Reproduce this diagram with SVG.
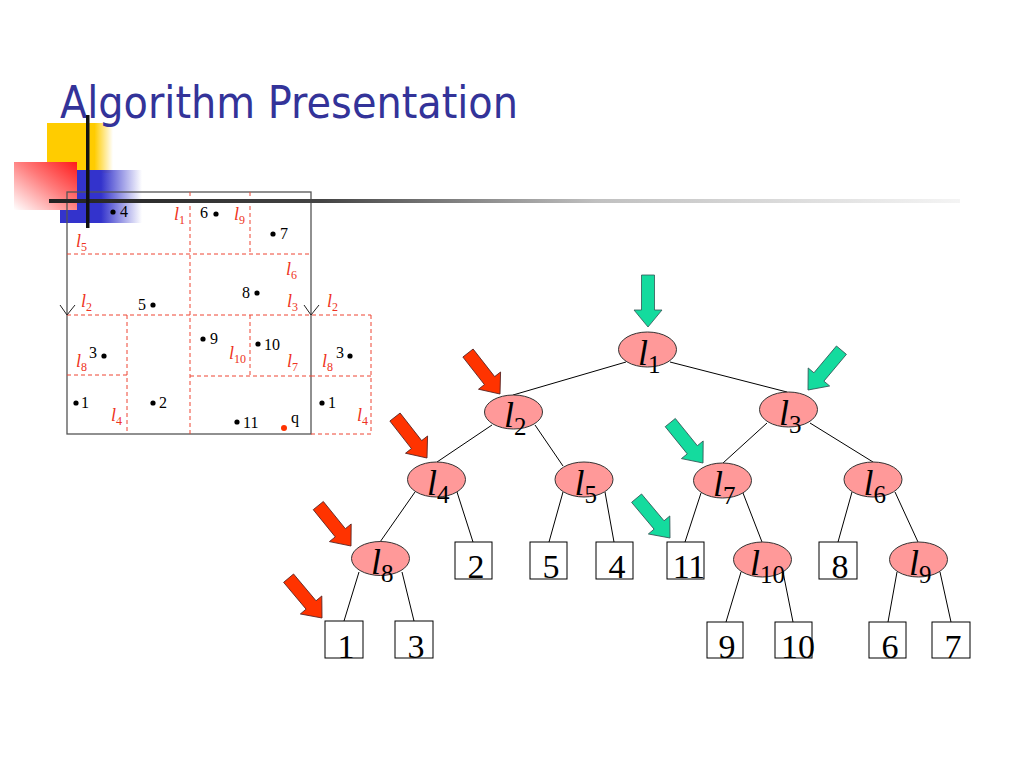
<svg xmlns="http://www.w3.org/2000/svg" xmlns:xlink="http://www.w3.org/1999/xlink" width="1024" height="768" viewBox="0 0 1024 768">
<defs>
  <linearGradient id="gYel" x1="0" y1="0" x2="1" y2="0">
    <stop offset="0" stop-color="#FFCC00"/>
    <stop offset="0.72" stop-color="#FFCC00"/>
    <stop offset="1" stop-color="#FFCC00" stop-opacity="0"/>
  </linearGradient>
  <linearGradient id="gBlue" x1="0" y1="0" x2="1" y2="0">
    <stop offset="0" stop-color="#3333CC"/>
    <stop offset="0.5" stop-color="#3333CC"/>
    <stop offset="1" stop-color="#3333CC" stop-opacity="0"/>
  </linearGradient>
  <linearGradient id="gRed" x1="1" y1="0" x2="0" y2="1">
    <stop offset="0" stop-color="#FF1A1A"/>
    <stop offset="0.45" stop-color="#FF7A7A"/>
    <stop offset="1" stop-color="#FFFFFF"/>
  </linearGradient>
  <linearGradient id="gLine" gradientUnits="userSpaceOnUse" x1="49" y1="0" x2="960" y2="0">
    <stop offset="0" stop-color="#222222"/>
    <stop offset="0.3" stop-color="#444444"/>
    <stop offset="0.6" stop-color="#C0C0C0"/>
    <stop offset="1" stop-color="#F4F4F4"/>
  </linearGradient>
  <path id="arr" d="M -6.5 -52 L 6.5 -52 L 6.5 -17 L 14 -17 L 0 0 L -14 -17 L -6.5 -17 Z"/>
  <style>
    .title { font-family: "DejaVu Sans", Verdana, sans-serif; font-size: 45px; fill: #333399; }
    .frame { fill: none; stroke: #555555; stroke-width: 1.3; }
    .dash { fill: none; stroke: #EE4433; stroke-width: 1; stroke-dasharray: 4 3; }
    .chev { fill: none; stroke: #222222; stroke-width: 1; }
    .lab { font-family: "Liberation Serif", "Times New Roman", serif; font-style: italic; font-size: 18px; fill: #EE3322; }
    .lab .s { font-style: normal; font-size: 12px; }
    .pt { font-family: "Liberation Serif", "Times New Roman", serif; font-size: 16px; fill: #000000; }
    .dot { fill: #000000; }
    .edge { stroke: #000000; stroke-width: 1; fill: none; }
    .inner ellipse { fill: #FF9999; stroke: #333333; stroke-width: 1; }
    .inner text { font-family: "Liberation Serif", "Times New Roman", serif; font-style: italic; font-size: 36px; fill: #000000; }
    .inner text tspan { font-style: normal; font-size: 25px; }
    .leaf rect { fill: #FFFFFF; stroke: #000000; stroke-width: 1; }
    .leaf text { font-family: "Liberation Serif", "Times New Roman", serif; font-size: 34px; fill: #000000; text-anchor: middle; }
    .ag { fill: #14DB9E; stroke: #335555; stroke-width: 0.8; }
    .ar { fill: #FF3300; stroke: #552222; stroke-width: 0.8; }
  </style>
</defs>
<rect x="0" y="0" width="1024" height="768" fill="#FFFFFF"/>

<g id="template">
  <rect x="47" y="123" width="66" height="50" fill="url(#gYel)"/>
  <rect x="60" y="170" width="82" height="53" fill="url(#gBlue)"/>
  <rect x="14" y="162" width="63" height="48" fill="url(#gRed)"/>
</g>

<g id="title">
  <text class="title" x="60" y="118" textLength="458" lengthAdjust="spacingAndGlyphs">Algorithm Presentation</text>
</g>

<g id="partition">
  <rect class="frame" x="67" y="192" width="244" height="242"/>
  <line class="dash" x1="190" y1="192" x2="190" y2="434"/>
  <line class="dash" x1="250" y1="192" x2="250" y2="254"/>
  <line class="dash" x1="67" y1="254" x2="311" y2="254"/>
  <line class="dash" x1="67" y1="315" x2="371" y2="315"/>
  <line class="dash" x1="127" y1="315" x2="127" y2="434"/>
  <line class="dash" x1="67" y1="375" x2="127" y2="375"/>
  <line class="dash" x1="190" y1="376" x2="311" y2="376"/>
  <line class="dash" x1="250" y1="315" x2="250" y2="376"/>
  <line class="dash" x1="371" y1="315" x2="371" y2="434"/>
  <line class="dash" x1="311" y1="434" x2="371" y2="434"/>
  <line class="dash" x1="311" y1="376" x2="371" y2="376"/>
  <polyline class="chev" points="60,305 67,315 75,305"/>
  <polyline class="chev" points="304,305 311,315 319,305"/>

  <text class="lab" x="76" y="247">l<tspan class="s" dy="4">5</tspan></text>
  <text class="lab" x="174" y="220">l<tspan class="s" dy="4">1</tspan></text>
  <text class="lab" x="234" y="220">l<tspan class="s" dy="4">9</tspan></text>
  <text class="lab" x="286" y="275">l<tspan class="s" dy="4">6</tspan></text>
  <text class="lab" x="287" y="307">l<tspan class="s" dy="4">3</tspan></text>
  <text class="lab" x="81" y="307">l<tspan class="s" dy="4">2</tspan></text>
  <text class="lab" x="327" y="307">l<tspan class="s" dy="4">2</tspan></text>
  <text class="lab" x="76" y="367">l<tspan class="s" dy="4">8</tspan></text>
  <text class="lab" x="229" y="359">l<tspan class="s" dy="4">10</tspan></text>
  <text class="lab" x="287" y="367">l<tspan class="s" dy="4">7</tspan></text>
  <text class="lab" x="322" y="367">l<tspan class="s" dy="4">8</tspan></text>
  <text class="lab" x="111" y="421">l<tspan class="s" dy="4">4</tspan></text>
  <text class="lab" x="357" y="421">l<tspan class="s" dy="4">4</tspan></text>

  <circle class="dot" cx="113" cy="212" r="2.6"/><text class="pt" x="120" y="217">4</text>
  <circle class="dot" cx="216" cy="214" r="2.6"/><text class="pt" x="200" y="218">6</text>
  <circle class="dot" cx="273" cy="234" r="2.6"/><text class="pt" x="280" y="239">7</text>
  <circle class="dot" cx="257" cy="293" r="2.6"/><text class="pt" x="242" y="298">8</text>
  <circle class="dot" cx="153" cy="305" r="2.6"/><text class="pt" x="138" y="310">5</text>
  <circle class="dot" cx="203" cy="339" r="2.6"/><text class="pt" x="210" y="344">9</text>
  <circle class="dot" cx="258" cy="344" r="2.6"/><text class="pt" x="264" y="350">10</text>
  <circle class="dot" cx="104" cy="356" r="2.6"/><text class="pt" x="89" y="358">3</text>
  <circle class="dot" cx="350" cy="356" r="2.6"/><text class="pt" x="336" y="358">3</text>
  <circle class="dot" cx="76" cy="403" r="2.6"/><text class="pt" x="81" y="408">1</text>
  <circle class="dot" cx="153" cy="403" r="2.6"/><text class="pt" x="159" y="408">2</text>
  <circle class="dot" cx="322" cy="403" r="2.6"/><text class="pt" x="328" y="408">1</text>
  <circle class="dot" cx="237" cy="422" r="2.6"/><text class="pt" x="243" y="428">11</text>
  <circle cx="284" cy="428" r="3" fill="#FF3300"/><text class="pt" x="291" y="423" fill="#FF3300">q</text>
</g>

<g id="template-lines">
  <rect x="49" y="199" width="911" height="4" fill="url(#gLine)"/>
  <rect x="86" y="115" width="3.5" height="113" fill="#111111"/>
</g>

<g id="connectors">
  <line class="edge" x1="626" y1="362" x2="513" y2="395"/>
  <line class="edge" x1="670" y1="362" x2="787" y2="392"/>
  <line class="edge" x1="492" y1="425" x2="437" y2="462"/>
  <line class="edge" x1="535" y1="425" x2="563" y2="466"/>
  <line class="edge" x1="767" y1="423" x2="723" y2="463"/>
  <line class="edge" x1="810" y1="423" x2="873" y2="462"/>
  <line class="edge" x1="415" y1="492" x2="380" y2="542"/>
  <line class="edge" x1="457" y1="492" x2="473" y2="542"/>
  <line class="edge" x1="563" y1="492" x2="549" y2="542"/>
  <line class="edge" x1="605" y1="492" x2="614" y2="542"/>
  <line class="edge" x1="701" y1="493" x2="685" y2="542"/>
  <line class="edge" x1="743" y1="493" x2="762" y2="542"/>
  <line class="edge" x1="852" y1="492" x2="838" y2="542"/>
  <line class="edge" x1="895" y1="492" x2="918" y2="542"/>
  <line class="edge" x1="359" y1="572" x2="344" y2="621"/>
  <line class="edge" x1="402" y1="572" x2="414" y2="621"/>
  <line class="edge" x1="741" y1="572" x2="726" y2="622"/>
  <line class="edge" x1="783" y1="572" x2="793" y2="622"/>
  <line class="edge" x1="897" y1="572" x2="888" y2="622"/>
  <line class="edge" x1="940" y1="572" x2="951" y2="622"/>
</g>

<g id="n-l1" class="inner"><ellipse cx="647.5" cy="349.5" rx="29" ry="17.5"/><text x="638" y="365">l<tspan dy="8">1</tspan></text></g>
<g id="n-l2" class="inner"><ellipse cx="513.5" cy="412" rx="29" ry="17"/><text x="504" y="427">l<tspan dy="8">2</tspan></text></g>
<g id="n-l3" class="inner"><ellipse cx="788.5" cy="409.5" rx="29" ry="17.5"/><text x="779" y="425">l<tspan dy="8">3</tspan></text></g>
<g id="n-l4" class="inner"><ellipse cx="436.5" cy="479.5" rx="29" ry="17.5"/><text x="427" y="495">l<tspan dy="8">4</tspan></text></g>
<g id="n-l5" class="inner"><ellipse cx="584" cy="479.5" rx="29" ry="17.5"/><text x="574.5" y="495">l<tspan dy="8">5</tspan></text></g>
<g id="n-l7" class="inner"><ellipse cx="722.5" cy="480.5" rx="29" ry="17.5"/><text x="713" y="496">l<tspan dy="8">7</tspan></text></g>
<g id="n-l6" class="inner"><ellipse cx="873" cy="479.5" rx="29" ry="17.5"/><text x="863.5" y="495">l<tspan dy="8">6</tspan></text></g>
<g id="n-l8" class="inner"><ellipse cx="380.5" cy="558.5" rx="29" ry="17"/><text x="371" y="574">l<tspan dy="8">8</tspan></text></g>
<g id="n-l10" class="inner"><ellipse cx="762.5" cy="559.5" rx="29" ry="17.5"/><text x="750" y="575">l<tspan dy="8">10</tspan></text></g>
<g id="n-l9" class="inner"><ellipse cx="918.5" cy="559.5" rx="29" ry="17.5"/><text x="909" y="575">l<tspan dy="8">9</tspan></text></g>

<g id="leaf-2" class="leaf"><rect x="455" y="542" width="37" height="37"/><text x="476" y="578">2</text></g>
<g id="leaf-5" class="leaf"><rect x="530" y="542" width="37" height="37"/><text x="551" y="578">5</text></g>
<g id="leaf-4" class="leaf"><rect x="596" y="542" width="37" height="37"/><text x="617" y="578">4</text></g>
<g id="leaf-11" class="leaf"><rect x="667" y="542" width="37" height="37"/><text x="689" y="578">11</text></g>
<g id="leaf-8" class="leaf"><rect x="819" y="542" width="38" height="37"/><text x="840" y="578">8</text></g>
<g id="leaf-1" class="leaf"><rect x="325" y="621" width="38" height="37"/><text x="346" y="658">1</text></g>
<g id="leaf-3" class="leaf"><rect x="395" y="621" width="38" height="37"/><text x="416" y="658">3</text></g>
<g id="leaf-9" class="leaf"><rect x="707" y="622" width="36" height="36"/><text x="727" y="658">9</text></g>
<g id="leaf-10" class="leaf"><rect x="775" y="622" width="37" height="36"/><text x="798" y="658">10</text></g>
<g id="leaf-6" class="leaf"><rect x="869" y="622" width="37" height="36"/><text x="890" y="658">6</text></g>
<g id="leaf-7" class="leaf"><rect x="932" y="622" width="38" height="36"/><text x="953" y="658">7</text></g>

<g id="arrows">
  <use xlink:href="#arr" class="ag" transform="translate(648,327)"/>
  <use xlink:href="#arr" class="ag" transform="translate(808,390) rotate(40)"/>
  <use xlink:href="#arr" class="ag" transform="translate(703,463) rotate(-39)"/>
  <use xlink:href="#arr" class="ag" transform="translate(670,538) rotate(-40)"/>
  <use xlink:href="#arr" class="ar" transform="translate(500,394) rotate(-38)"/>
  <use xlink:href="#arr" class="ar" transform="translate(427,458) rotate(-38)"/>
  <use xlink:href="#arr" class="ar" transform="translate(351,546) rotate(-39)"/>
  <use xlink:href="#arr" class="ar" transform="translate(322,618) rotate(-40)"/>
</g>
</svg>
